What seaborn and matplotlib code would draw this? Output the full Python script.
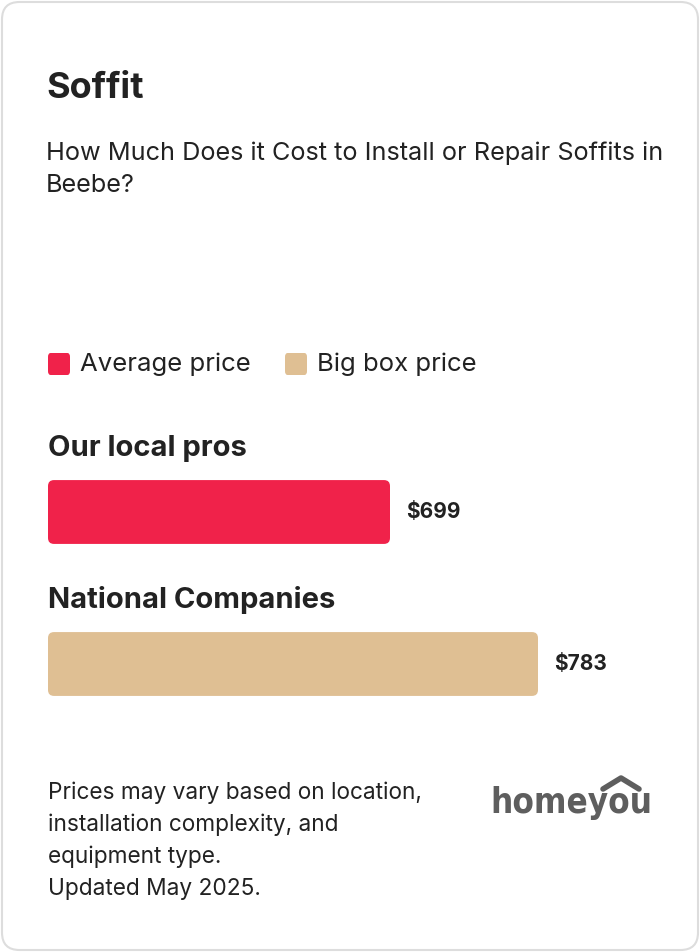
import matplotlib
matplotlib.use("Agg")
import matplotlib.pyplot as plt
import seaborn as sns
import pandas as pd
from matplotlib.patches import FancyBboxPatch

categories = ["Our local pros", "National Companies"]
values = [699, 783]
value_labels = ["$699", "$783"]
colors = ["#F0224A", "#DFBF93"]
legend_labels = ["Average price", "Big box price"]

sns.set_theme(style="white")
plt.rcParams['font.family'] = ['Inter', 'DejaVu Sans']

W, H = 700, 952
fig = plt.figure(figsize=(7, 9.52), dpi=100)
fig.patch.set_facecolor("white")

def px(x, y):
    return x / W, 1 - y / H

card = FancyBboxPatch(px(2, 950), 696 / W, 948 / H, boxstyle="round,pad=0,rounding_size=0.025",
                      transform=fig.transFigure, facecolor="white", edgecolor="#DDDDDD", lw=1.5,
                      mutation_aspect=W / H)
fig.patches.append(card)

fig.text(*px(46, 88), "Soffit", fontsize=26, fontweight="bold", color="#222222", va="center")
fig.text(*px(46, 153), "How Much Does it Cost to Install or Repair Soffits in", fontsize=18.2, color="#222222", va="center")
fig.text(*px(46, 186), "Beebe?", fontsize=18.2, color="#222222", va="center")

for i, (lab, c) in enumerate(zip(legend_labels, colors)):
    x0 = [48, 285][i]
    fig.patches.append(FancyBboxPatch(px(x0, 375), 22 / W, 22 / H, boxstyle="round,pad=0,rounding_size=0.004",
                                      transform=fig.transFigure, facecolor=c, edgecolor="none"))
    fig.text(*px(x0 + 32, 364), lab, fontsize=18.5, color="#222222", va="center")

ax_left, ax_right, ax_top, ax_bot = 48, 650, 436, 740
ax = fig.add_axes([ax_left / W, 1 - ax_bot / H, (ax_right - ax_left) / W, (ax_bot - ax_top) / H])
df = pd.DataFrame({"cat": categories, "val": values})
sns.barplot(data=df, y="cat", x="val", hue="cat", palette=colors, orient="h", width=0.42, ax=ax, legend=False)
scale = (490 - 342) / (783 - 699)
x_min = 699 - 342 / scale
ax.set_xlim(x_min, x_min + (ax_right - ax_left) / scale)
ax.set_ylim(1.5, -0.5)
ax.axis("off")
fig.canvas.draw()
for p, c in zip(list(ax.patches), colors):
    bb = p.get_window_extent()
    p.set_visible(False)
    x0d = ax.transData.transform((x_min, 0))[0]
    fp = FancyBboxPatch((x0d, bb.y0), bb.x1 - x0d, bb.height, boxstyle="round,pad=0,rounding_size=6",
                        transform=None, facecolor=c, edgecolor="none")
    fig.patches.append(fp)
for i, (cat, v, lab) in enumerate(zip(categories, values, value_labels)):
    xd, yd = ax.transData.transform((v, i))
    fig.text(xd + 16, yd, lab, transform=None, va="center", ha="left", fontsize=15,
             fontweight="bold", color="#222222")
    fig.text(*px(48, [448, 600][i]), cat, fontsize=21, fontweight="bold", color="#222222", va="center")

notes = ["Prices may vary based on location,", "installation complexity, and", "equipment type.", "Updated May 2025."]
for i, n in enumerate(notes):
    fig.text(*px(48, 793 + 32 * i), n, fontsize=16.3, color="#222222", va="center")

fig.text(*px(571, 803), "homeyou", fontsize=25, fontweight="bold", color="#5E5E5E", ha="center", va="center",
         family=["DejaVu Sans"], stretch="condensed")
fig.lines.append(plt.Line2D([603 / W, 621 / W, 639 / W], [1 - 789 / H, 1 - 778 / H, 1 - 789 / H],
                            transform=fig.transFigure, color="#5E5E5E", lw=4))

fig.savefig("out.png", dpi=100, facecolor="white")
